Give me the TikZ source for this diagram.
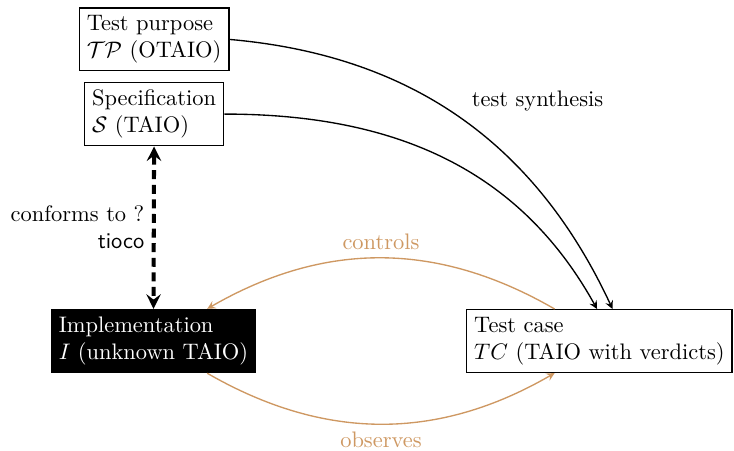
\documentclass[tikz,border=0pt]{standalone}
\usepackage{amsmath}
\usetikzlibrary{arrows}
\definecolor{loopbrown}{RGB}{206,152,98}

\begin{document}
\begin{tikzpicture}[>=stealth,semithick,scale=0.935]
\tikzset{box/.style=
            {draw,align=left},
         impbox/.style=
            {fill=black,text=white,align=left},
         loop/.style=
            {->,loopbrown}}
\useasboundingbox (0,0) rectangle (12.29,7.54);
\node[box] (tp) at (2.58,6.88) {Test purpose\\$\mathcal{TP}$ (OTAIO)};
\node[box] (spec) at (2.58,5.63) {Specification\\$\mathcal{S}$ (TAIO)};
\node[impbox] (impl) at (2.57,1.83) {Implementation\\$I$ (unknown TAIO)};
\node[box,anchor=east] (tc) at (12.27,1.83) {Test case\\$TC$ (TAIO with verdicts)};
\node (synth) at (9.0,5.85) {test synthesis};
\draw[->] (tp.east) to[out=-5,in=115] ([xshift=0.22cm]tc.north);
\draw[->] (spec.east) to[out=0,in=119] ([xshift=-0.04cm]tc.north);
\draw[<->,dash pattern=on 4pt off 2.5pt,line width=1.8pt] (spec.south) -- (impl.north)
    node[midway,left,align=right] (conf) {conforms to ?\\\textsf{tioco}};
\draw[loop] ([xshift=-0.75cm]tc.north) to[bend right=30]
    node[midway,above] (ctrl) {controls} ([xshift=0.9cm]impl.north);
\draw[loop] ([xshift=0.9cm]impl.south) to[bend right=30]
    node[midway,below] (obs) {observes} ([xshift=-0.75cm]tc.south);
\end{tikzpicture}
\end{document}
